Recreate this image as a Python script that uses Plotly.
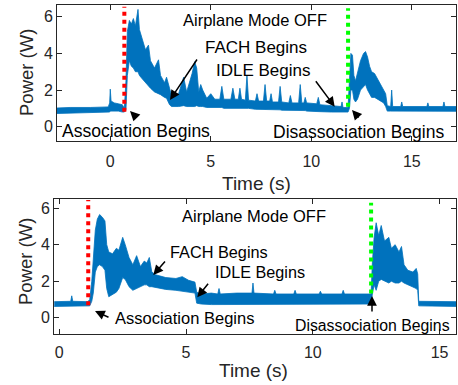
import plotly.graph_objects as go

# ---------------- data ----------------
# Top panel: time (s), lower / upper envelope of measured power (W)
top_t = [-2.65, -2.0, -1.0, -0.1, -0.03, 0.0, 0.04, 0.2, 0.4, 0.6, 0.7,
         0.78, 0.85, 0.95, 1.05, 1.15, 1.25, 1.38, 1.45, 1.6, 1.75, 1.9, 2.0,
         2.2, 2.4, 2.5, 2.7, 2.8, 2.95, 3.05, 3.4, 3.65, 3.8, 4.07, 4.2, 4.3,
         4.4, 4.5, 4.6, 4.8, 5.0, 5.2, 5.45, 5.55, 5.65, 6.0, 6.1, 6.2, 6.37,
         6.45, 6.53, 6.72, 6.8, 6.88, 7.22, 7.3, 7.38, 7.62, 7.7, 7.78, 7.93,
         8.0, 8.07, 8.37, 8.45, 8.53, 8.88, 8.96, 9.04, 9.37, 9.45, 9.53, 9.63,
         9.7, 9.77, 10.27, 10.35, 10.43, 11.0, 11.48, 11.53, 11.58, 11.83,
         11.9, 11.97, 12.05, 12.12, 12.2, 12.3, 12.45, 12.6, 12.7, 12.8, 12.9,
         13.0, 13.15, 13.3, 13.45, 13.6, 13.7, 13.78, 13.95, 14.0, 14.05, 14.45,
         14.5, 14.55, 15.75, 15.8, 15.85, 16.55, 16.6, 16.65, 17.2]
top_lo = [0.72, 0.74, 0.75, 0.77, 0.8, 0.85, 0.85, 0.88, 0.85, 0.8, 0.8,
          0.9, 2.8, 3.6, 3.3, 3.2, 3.0, 3.0, 2.8, 2.6, 2.4, 2.2, 2.1,
          1.9, 1.8, 1.75, 1.6, 1.55, 1.2, 1.1, 1.1, 1.15, 1.1, 1.1, 1.1, 1.15,
          1.1, 1.1, 1.1, 1.05, 1.05, 1.05, 1.05, 1.05, 1.0, 1.0, 1.0, 1.0, 1.0,
          1.0, 1.0, 1.0, 1.0, 1.0, 0.95, 0.95, 0.95, 0.95, 0.95, 0.95, 0.95,
          0.95, 0.92, 0.92, 0.92, 0.9, 0.9, 0.9, 0.9, 0.88, 0.88, 0.88, 0.88,
          0.88, 0.85, 0.85, 0.85, 0.82, 0.8, 0.78, 0.78, 0.78, 0.8,
          1.0, 2.0, 2.0, 1.5, 1.35, 1.5, 2.0, 2.2, 2.3, 2.0, 1.8,
          1.6, 1.6, 1.5, 1.4, 1.3, 1.1, 0.85, 0.85, 0.85, 0.85, 0.85,
          0.85, 0.85, 0.84, 0.84, 0.84, 0.84, 0.84, 0.84, 0.84]
top_hi = [1.02, 1.05, 1.05, 1.08, 1.3, 2.05, 1.4, 1.3, 1.25, 1.2, 1.0,
          2.5, 5.2, 5.8, 5.6, 5.9, 5.5, 6.4, 5.3, 4.8, 4.2, 4.45, 3.6,
          3.2, 3.65, 2.8, 2.4, 2.7, 2.1, 1.7, 1.8, 2.7, 1.9, 2.9, 3.55, 3.2,
          1.9, 2.3, 2.0, 1.55, 1.8, 1.5, 1.5, 2.2, 1.5, 1.5, 2.1, 1.5, 1.5,
          2.1, 1.5, 1.45, 2.8, 1.45, 1.4, 1.8, 1.4, 1.4, 2.3, 1.4, 1.4,
          1.8, 1.35, 1.35, 2.2, 1.35, 1.3, 1.7, 1.3, 1.3, 2.3, 1.3, 1.3,
          1.6, 1.3, 1.25, 1.6, 1.2, 1.15, 1.1, 1.35, 1.05, 1.05,
          3.0, 4.0, 3.9, 2.8, 2.5, 3.0, 3.6, 4.0, 4.1, 3.8, 3.3,
          3.0, 2.9, 2.6, 2.3, 2.0, 1.8, 1.15, 1.1, 2.0, 1.1, 1.1,
          1.35, 1.1, 1.1, 1.3, 1.1, 1.1, 1.35, 1.1, 1.1]

# Bottom panel
bot_t = [-0.2, 0.3, 0.45, 0.49, 0.53, 1.12, 1.2, 1.28, 1.34, 1.42, 1.5, 1.59,
         1.7, 1.8, 1.87, 1.95, 2.1, 2.25, 2.35, 2.5, 2.6, 2.75, 2.9, 3.05, 3.2,
         3.35, 3.45, 3.55, 3.65, 3.8, 4.2, 4.6, 4.85, 5.1, 5.35, 5.42, 5.6,
         6.0, 6.25, 6.3, 6.35, 7.0, 7.6, 7.64, 7.68, 8.45, 8.5, 8.55, 9.25,
         9.3, 9.35, 10.25, 10.3, 10.35, 11.15, 11.2, 11.25, 12.3, 12.35, 12.42,
         12.5, 12.6, 12.7, 12.83, 13.0, 13.1, 13.25, 13.4, 13.5, 13.6, 13.75,
         13.95, 14.08, 14.14, 14.18, 15.65]
bot_lo = [0.62, 0.62, 0.62, 0.64, 0.62, 0.62, 0.65, 0.9, 1.35, 2.5, 2.8, 2.9,
          2.8, 2.6, 1.6, 1.15, 1.3, 1.4, 1.6, 2.2, 2.1, 1.7, 1.5, 1.6, 1.7,
          1.8, 1.8, 1.7, 1.7, 1.65, 1.55, 1.5, 1.45, 1.4, 1.35, 0.8, 0.75,
          0.72, 0.72, 0.72, 0.72, 0.72, 0.72, 0.72, 0.72, 0.72, 0.72, 0.72, 0.72,
          0.72, 0.72, 0.72, 0.72, 0.72, 0.72, 0.72, 0.72, 0.75, 1.3, 1.8,
          1.5, 2.0, 2.1, 2.0, 1.9, 2.0, 1.9, 1.9, 2.0, 1.9, 1.8,
          1.7, 1.6, 1.5, 0.65, 0.62]
bot_hi = [0.88, 0.9, 0.9, 1.2, 0.9, 0.88, 1.0, 2.0, 3.0, 4.8, 5.4, 5.65,
          5.5, 5.3, 4.0, 3.6, 3.5, 3.8, 3.7, 4.4, 4.0, 3.3, 2.9, 3.4, 2.8,
          3.1, 3.0, 3.3, 2.5, 2.35, 2.2, 2.15, 2.25, 2.05, 1.95, 1.4, 1.3,
          1.35, 1.3, 1.6, 1.3, 1.35, 1.35, 1.9, 1.35, 1.3, 1.5, 1.3, 1.3,
          1.5, 1.3, 1.3, 1.45, 1.3, 1.3, 1.5, 1.3, 1.3, 3.0, 4.4,
          5.2, 4.5, 5.05, 4.2, 4.4, 3.8, 4.0, 3.6, 3.9, 2.9, 2.6,
          2.5, 2.7, 2.4, 0.9, 0.88]

# Event markers: time (s), lower / upper end of the dotted line (W)
top_assoc = [0.70, 0.82, 6.55]
top_disassoc = [11.83, 1.09, 6.46]
bot_assoc = [1.14, 0.69, 6.45]
bot_disassoc = [12.30, 1.33, 6.30]

x_ticks = [0, 5, 10, 15]
y_ticks = [0, 2, 4, 6]

# ---------------- figure ----------------
W, H = 458, 385
BLUE = "#0072BD"
AX = "#262626"
FONT = "Liberation Sans, Arial, sans-serif"


def px(x):
    return x / W


def py(y):
    return 1 - y / H


fig = go.Figure()


def add_band(t, lo, hi, xa, ya):
    fig.add_trace(go.Scatter(x=t, y=lo, mode="lines", xaxis=xa, yaxis=ya,
                             line=dict(color=BLUE, width=0.8), showlegend=False,
                             hoverinfo="skip"))
    fig.add_trace(go.Scatter(x=t, y=hi, mode="lines", xaxis=xa, yaxis=ya,
                             fill="tonexty", fillcolor=BLUE,
                             line=dict(color=BLUE, width=0.8), showlegend=False,
                             hoverinfo="skip"))


def add_event(ev, color, xa, ya):
    fig.add_trace(go.Scatter(x=[ev[0], ev[0]], y=[ev[1], ev[2]], mode="lines",
                             xaxis=xa, yaxis=ya,
                             line=dict(color=color, width=4, dash="dot"),
                             showlegend=False, hoverinfo="skip"))


add_band(top_t, top_lo, top_hi, "x", "y")
add_band(bot_t, bot_lo, bot_hi, "x2", "y2")
add_event(top_assoc, "#FF0000", "x", "y")
add_event(top_disassoc, "#00FF00", "x", "y")
add_event(bot_assoc, "#FF0000", "x2", "y2")
add_event(bot_disassoc, "#00FF00", "x2", "y2")

axis_common = dict(showline=True, linecolor=AX, linewidth=1, mirror="ticks",
                   ticks="inside", ticklen=5, tickcolor=AX, showgrid=False,
                   zeroline=False, tickfont=dict(family=FONT, size=16, color=AX))

fig.update_layout(
    width=W, height=H, margin=dict(l=0, r=0, t=0, b=0),
    paper_bgcolor="white", plot_bgcolor="white", showlegend=False,
    xaxis=dict(domain=[px(57), px(456)], range=[-2.65, 17.2], tickvals=x_ticks,
               anchor="y", ticklabelstandoff=6, **axis_common),
    yaxis=dict(domain=[py(141), py(5)], range=[-0.78, 6.64], tickvals=y_ticks,
               anchor="x", **axis_common),
    xaxis2=dict(domain=[px(54), px(456)], range=[-0.21, 15.65], tickvals=x_ticks,
                anchor="y2", ticklabelstandoff=4, **axis_common),
    yaxis2=dict(domain=[py(334), py(199)], range=[-0.89, 6.5], tickvals=y_ticks,
                anchor="x2", **axis_common),
)

anns = []


def text(s, x, y, size, angle=0, color="black"):
    anns.append(dict(text=s, x=px(x), y=py(y), xref="paper", yref="paper",
                     xanchor="center", yanchor="middle", showarrow=False,
                     textangle=angle,
                     font=dict(family=FONT, size=size, color=color)))


def arrow(tx, ty, ax, ay):
    anns.append(dict(text="", x=px(tx), y=py(ty), xref="paper", yref="paper",
                     ax=ax, ay=ay, showarrow=True, arrowhead=2, arrowsize=1.3,
                     arrowwidth=1.5, arrowcolor="black"))


# axis titles
text("Power (W)", 27, 73, 18.5, angle=-90, color=AX)
text("Power (W)", 25, 262, 18.5, angle=-90, color=AX)
text("Time (s)", 256, 183, 19, color=AX)
text("Time (s)", 254, 370, 19, color=AX)

# top panel labels
text("Airplane Mode OFF", 255, 20, 16.5)
text("FACH Begins", 256, 47, 17)
text("IDLE Begins", 263, 70, 17)
text("Association Begins", 136, 131, 17.5)
text("Disassociation Begins", 358, 132, 17.5)
arrow(170, 100, 28, -42)
arrow(334.7, 106.7, -20, -27)
arrow(130, 111, 8, 8)
arrow(352, 110, 8, 9)

# bottom panel labels
text("Airplane Mode OFF", 253.5, 216, 16.5)
text("FACH Begins", 219, 252, 16.3)
text("IDLE Begins", 260, 272, 16.2)
text("Association Begins", 184.5, 318, 16.5)
text("Disassociation Begins", 372, 325, 15.8)
arrow(153.3, 275, 13, -15)
arrow(197.3, 297.3, 12, -15)
arrow(95, 311, 15, 7)
arrow(372, 296, 0, 17)

fig.update_layout(annotations=anns)
fig.write_html("out.html")
